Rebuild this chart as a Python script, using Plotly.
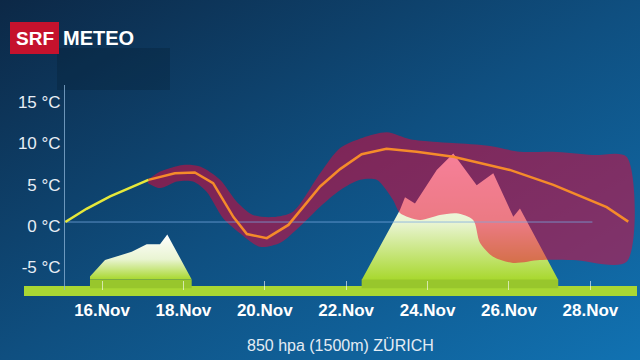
import base64
import plotly.graph_objects as go

# ---------------- data ----------------
temp_days = [15.1, 15.62, 16.2, 16.69, 17.14, 17.79, 18.28, 18.73, 19.23, 19.56, 20.05, 20.58,
             21.36, 21.85, 22.38, 22.99, 23.73, 24.63, 26.02, 27.09, 28.4, 28.93]
temp_vals = [0.0, 1.6, 3.1, 4.1, 5.1, 5.9, 6.0, 4.7, 0.6, -1.45, -1.95, -0.35,
             4.3, 6.4, 8.2, 8.85, 8.5, 7.9, 6.3, 4.5, 1.8, 0.05]
observed_count = 5  # first points drawn in yellow

band_upper_days = [17.13, 17.43, 17.99, 18.41, 18.9, 19.31, 19.71, 20.2, 20.69, 21.36, 21.85,
                   22.41, 23.0, 23.57, 24.13, 24.62, 25.53, 26.27, 27.08, 28.06, 28.89]
band_upper = [5.1, 6.1, 6.9, 6.7, 5.1, 2.45, 0.85, 0.6, 1.25, 5.9, 8.95,
              10.2, 10.85, 10.0, 9.7, 9.55, 9.2, 8.5, 8.5, 8.1, 7.9]
band_lower_days = [17.13, 17.43, 17.84, 18.24, 18.57, 18.97, 19.39, 19.88, 20.37, 20.86, 21.36,
                   21.85, 22.34, 22.75, 23.15, 23.32, 23.81, 24.3, 24.71, 25.12, 25.29, 25.61,
                   26.1, 26.76, 27.57, 28.89]
band_lower = [4.7, 4.1, 4.9, 4.9, 3.65, 0.5, -1.35, -3.0, -2.55, -0.55, 1.85,
              3.85, 5.1, 5.1, 2.65, 1.1, 0.25, 0.85, 1.05, 0.25, -2.55, -4.2,
              -4.95, -4.6, -4.6, -4.8]

mountain1_days = [15.705, 15.705, 16.074, 16.442, 16.73, 17.098, 17.425, 17.604, 18.204]
mountain1_vals = [-6.95, -6.6, -4.6, -4.0, -3.6, -2.7, -2.7, -1.5, -6.95]
mountain2_days = [22.38, 23.32, 23.445, 23.69, 24.224, 24.631, 25.206, 25.614, 26.106, 26.27, 27.21]
mountain2_vals = [-7.0, 1.45, 3.0, 2.25, 6.3, 8.3, 4.45, 5.9, 0.65, 1.65, -7.0]
ground_top = -6.95
ground_bottom = -8.0

zero_line_days = [15.1, 28.05]

tick_days = [16, 18, 20, 22, 24, 26, 28]
tick_labels = ["16.Nov", "18.Nov", "20.Nov", "22.Nov", "24.Nov", "26.Nov", "28.Nov"]
y_ticks = [-5, 0, 5, 10, 15]
y_tick_labels = ["-5 °C", "0 °C", "5 °C", "10 °C", "15 °C"]

# ---------------- figure ----------------
fig = go.Figure()

mountain_grad = dict(type="vertical",
                     colorscale=[[0, "#a8d82e"], [0.45, "#e9f4d2"], [1, "#ffffff"]])

for md, mv in [(mountain1_days, mountain1_vals), (mountain2_days, mountain2_vals)]:
    fig.add_trace(go.Scatter(x=md, y=mv, mode="lines", fill="toself",
                             line=dict(width=0, color="rgba(0,0,0,0)"),
                             fillgradient=mountain_grad, hoverinfo="skip", showlegend=False))
    x0, x1 = min(md), max(md)
    fig.add_trace(go.Scatter(x=[x0, x1, x1, x0, x0],
                             y=[ground_top, ground_top, ground_bottom, ground_bottom, ground_top],
                             mode="lines", fill="toself", fillcolor="#98c62c",
                             line=dict(width=0), hoverinfo="skip", showlegend=False))

# uncertainty band
fig.add_trace(go.Scatter(x=band_upper_days + band_lower_days[::-1],
                         y=band_upper + band_lower[::-1],
                         mode="lines", fill="toself", fillcolor="rgba(238,0,52,0.5)",
                         line=dict(width=0, shape="spline", smoothing=0.8),
                         hoverinfo="skip", showlegend=False))

# zero line
fig.add_trace(go.Scatter(x=zero_line_days, y=[0, 0], mode="lines",
                         line=dict(color="rgba(120,170,225,0.75)", width=1),
                         hoverinfo="skip", showlegend=False))

# temperature line
fig.add_trace(go.Scatter(x=temp_days[observed_count - 1:], y=temp_vals[observed_count - 1:],
                         mode="lines", line=dict(color="#f58b2a", width=2.5),
                         hoverinfo="skip", showlegend=False))
fig.add_trace(go.Scatter(x=temp_days[:observed_count], y=temp_vals[:observed_count],
                         mode="lines", line=dict(color="#e6e83a", width=2.5),
                         hoverinfo="skip", showlegend=False))

# background gradient
svg = ('<svg xmlns="http://www.w3.org/2000/svg" width="640" height="360">'
       '<defs><linearGradient id="g" x1="0" y1="0" x2="1" y2="1">'
       '<stop offset="0" stop-color="#0c2846"/>'
       '<stop offset="0.5" stop-color="#0f4f80"/>'
       '<stop offset="1" stop-color="#1172b2"/>'
       '</linearGradient></defs>'
       '<rect width="640" height="360" fill="url(#g)"/></svg>')
bg_uri = "data:image/svg+xml;base64," + base64.b64encode(svg.encode()).decode()

W, H = 640, 360
def px(x):
    return x / W
def py(y):
    return (H - y) / H

fig.update_layout(
    width=W, height=H,
    margin=dict(l=0, r=0, t=0, b=0),
    paper_bgcolor="#0f4a78",
    plot_bgcolor="rgba(0,0,0,0)",
    showlegend=False,
    images=[dict(source=bg_uri, xref="paper", yref="paper", x=0, y=1, sizex=1, sizey=1,
                 xanchor="left", yanchor="top", sizing="stretch", layer="below")],
    xaxis=dict(domain=[px(65), 1], range=[15.091, 29.219], showgrid=False, zeroline=False,
               showline=False, ticks="inside", ticklen=9, tickwidth=1,
               tickcolor="rgba(255,255,255,0.6)",
               tickvals=tick_days, ticktext=tick_labels, ticklabelstandoff=8,
               tickfont=dict(family="Liberation Sans", size=17, color="#ffffff", weight="bold"),
               automargin=False, fixedrange=True),
    yaxis=dict(domain=[py(290), py(85)], range=[-8.22, 16.57], showgrid=False, zeroline=False,
               showline=True, linecolor="rgba(140,180,215,0.75)", linewidth=1, ticks="",
               tickvals=y_ticks, ticktext=y_tick_labels, ticklabelshift=4,
               tickfont=dict(family="Liberation Sans", size=17, color="#e8eef5"),
               automargin=False, fixedrange=True),
    shapes=[
        # ground bar
        dict(type="rect", xref="paper", yref="paper", x0=px(24), x1=px(637), y0=py(296), y1=py(286),
             fillcolor="#a9d733", line=dict(width=0), layer="below"),
        # dark panel behind logo
        dict(type="rect", xref="paper", yref="paper", x0=px(57), x1=px(170), y0=py(90), y1=py(48),
             fillcolor="rgba(5,22,40,0.25)", line=dict(width=0), layer="below"),
        # SRF red box
        dict(type="rect", xref="paper", yref="paper", x0=px(10), x1=px(59), y0=py(54), y1=py(22),
             fillcolor="#c5122d", line=dict(width=0), layer="above"),
    ],
    annotations=[
        dict(text="SRF", xref="paper", yref="paper", x=px(34.5), y=py(38.5), showarrow=False,
             xanchor="center", yanchor="middle",
             font=dict(family="Liberation Sans", size=19, color="#ffffff", weight="bold")),
        dict(text="METEO", xref="paper", yref="paper", x=px(61), y=py(38.5), showarrow=False,
             xanchor="left", yanchor="middle",
             font=dict(family="Liberation Sans", size=20, color="#ffffff", weight="bold")),
        dict(text="850 hpa (1500m) ZÜRICH", xref="paper", yref="paper", x=px(340.5), y=py(345),
             showarrow=False, xanchor="center", yanchor="middle",
             font=dict(family="Liberation Sans", size=16, color="#e4ecf4")),
    ],
)

fig.write_html("out.html", config={"displayModeBar": False},
               post_script="document.body.style.margin='0';document.body.style.overflow='hidden';")
